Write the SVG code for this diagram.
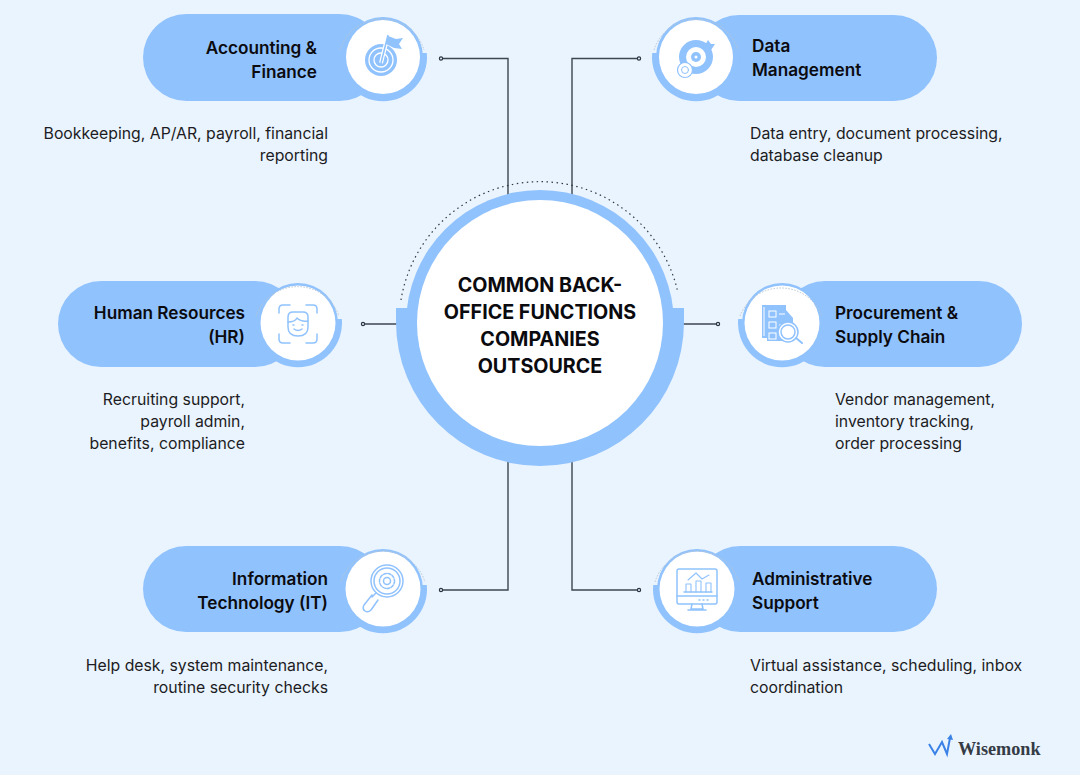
<svg xmlns="http://www.w3.org/2000/svg" width="1080" height="775" viewBox="0 0 1080 775">
<style>
.pill{fill:#90c2fd}
.white{fill:#fff}
.arc{fill:none;stroke:#b9c6d2;stroke-width:1;stroke-dasharray:1.5 1.5}
.t{font-family:"Inter","Liberation Sans",sans-serif;font-weight:600;font-size:17.2px;fill:#0b0b0f}
.b{font-family:"Inter","Liberation Sans",sans-serif;font-weight:400;font-size:15.800px;fill:#1c1c22}
.h{font-family:"Inter","Liberation Sans",sans-serif;font-weight:700;font-size:19.700px;fill:#0b0b0f;text-anchor:middle}
.e{text-anchor:end}
.c{fill:none;stroke:#3c4652;stroke-width:1.4}
.d{fill:#eaf4ff;stroke:#2a3440;stroke-width:1.2}
.i{fill:none;stroke:#90c2fd;stroke-width:1.5;stroke-linecap:round;stroke-linejoin:round}
.w{fill:none;stroke:#fff;stroke-width:1.3}
.f{fill:#90c2fd}
</style>
<rect width="1080" height="775" fill="#eaf4ff"/>
<g id="connectors">
<path class="c" d="M441 58.500H508V195"/>
<path class="c" d="M639 58.500H572V195"/>
<path class="c" d="M363 324H400"/>
<path class="c" d="M718 324H680"/>
<path class="c" d="M441 590H508V460"/>
<path class="c" d="M639 590H572V460"/>
<circle class="d" cx="441" cy="58.500" r="1.600"/>
<circle class="d" cx="639" cy="58.500" r="1.600"/>
<circle class="d" cx="363" cy="324" r="1.600"/>
<circle class="d" cx="718" cy="324" r="1.600"/>
<circle class="d" cx="441" cy="590" r="1.600"/>
<circle class="d" cx="639" cy="590" r="1.600"/>
</g>
<g id="center">
<path d="M396 308H684V322A144 144 0 0 1 396 322Z" class="pill"/>
<circle cx="540" cy="324" r="134" class="pill"/>
<circle cx="540" cy="323" r="123" class="white"/>
<path d="M401 300A141 141 0 0 1 678 293" fill="none" stroke="#2f3945" stroke-width="1.200" stroke-dasharray="1.500 3.500"/>
<text class="h"><tspan x="540" y="292">COMMON BACK-</tspan><tspan x="540" y="319">OFFICE FUNCTIONS</tspan><tspan x="540" y="346">COMPANIES</tspan><tspan x="540" y="373">OUTSOURCE</tspan></text>
</g>
<g id="accounting">
<rect class="pill" x="143" y="14" width="240" height="87" rx="43.500"/>
<path class="pill" d="M339.200 53A44 44 0 1 0 426.800 53Z"/>
<circle class="pill" cx="383" cy="57" r="40"/>
<circle class="white" cx="383" cy="57" r="37"/>
<path class="arc" d="M340 50A44 44 0 0 1 424 50"/>
<circle class="f" cx="381" cy="60" r="16"/>
<circle class="w" cx="381" cy="60" r="12"/><circle class="w" cx="381" cy="60" r="7"/>
<path d="M381 63L388 35" stroke="#fff" stroke-width="4"/><path d="M381 63L388 35" stroke="#90c2fd" stroke-width="1.500"/>
<path class="f" d="M388 36L396 39L403 38L399 44L402 49L394 48L386 44Z"/>
<text class="t e"><tspan x="317" y="54">Accounting &amp;</tspan><tspan x="317" y="78">Finance</tspan></text>
<text class="b e"><tspan x="328" y="139">Bookkeeping, AP/AR, payroll, financial</tspan><tspan x="328" y="161">reporting</tspan></text>
</g>
<g id="data">
<rect class="pill" x="696" y="15" width="241" height="86" rx="43"/>
<path class="pill" d="M652.200 53A44 44 0 1 0 739.800 53Z"/>
<circle class="pill" cx="696" cy="57" r="40"/>
<circle class="white" cx="696" cy="57" r="37"/>
<path class="arc" d="M654 50A44 44 0 0 1 738 50"/>
<circle class="f" cx="696" cy="57" r="17"/><circle class="white" cx="696" cy="57" r="10"/><circle class="f" cx="696" cy="57" r="5"/><circle class="white" cx="696" cy="57" r="1.500"/>
<path class="f" d="M705 45L708 40L711 44L715 44L711 50L707 50Z"/>
<circle cx="685" cy="70" r="7.500" fill="#fff" stroke="#90c2fd" stroke-width="1.200"/><circle class="i" cx="685" cy="70" r="3.500" style="stroke-width:1"/>
<text class="t"><tspan x="752" y="52">Data</tspan><tspan x="752" y="76">Management</tspan></text>
<text class="b"><tspan x="750" y="139">Data entry, document processing,</tspan><tspan x="750" y="161">database cleanup</tspan></text>
</g>
<g id="hr">
<rect class="pill" x="58" y="281" width="240" height="86" rx="43"/>
<path class="pill" d="M254.200 319A44 44 0 1 0 341.800 319Z"/>
<circle class="pill" cx="298" cy="323" r="40"/>
<circle class="white" cx="298" cy="323" r="37.500"/>
<path class="arc" d="M256 316A44 44 0 0 1 339 316"/>
<path class="i" d="M279 313V309Q279 305 283 305H290M306 305H313Q317 305 317 309V313M279 334V339Q279 343 283 343H290M306 343H313Q317 343 317 339V334"/>
<path class="i" d="M288 317Q288 312 293 312H303Q308 312 308 317V327Q308 336 298 336Q288 336 288 327Z"/>
<path class="i" d="M288 322Q295 322 297 318Q301 322 308 321M293 325H294M302 325H303M294 329Q298 332 302 329"/>
<text class="t e"><tspan x="245" y="319">Human Resources</tspan><tspan x="245" y="343">(HR)</tspan></text>
<text class="b e"><tspan x="245" y="405">Recruiting support,</tspan><tspan x="245" y="427">payroll admin,</tspan><tspan x="245" y="449">benefits, compliance</tspan></text>
</g>
<g id="procurement">
<rect class="pill" x="782" y="281" width="240" height="86" rx="43"/>
<path class="pill" d="M738.200 319A44 44 0 1 0 825.800 319Z"/>
<circle class="pill" cx="782" cy="323" r="40"/>
<circle class="white" cx="782" cy="323" r="37.500"/>
<path class="arc" d="M740 316A44 44 0 0 1 822 316"/>
<path class="f" d="M762 305H786V310L793 318V341H767V338H762Z"/>
<path d="M764 307V336" stroke="#fff" stroke-width="1"/>
<g class="w" style="stroke-width:1"><rect x="769" y="311" width="7" height="6"/><rect x="769" y="322" width="7" height="6"/><rect x="769" y="333" width="7" height="6"/><path d="M779 314H785M779 325H785"/></g>
<circle cx="788" cy="332" r="10" fill="#fff" stroke="#90c2fd" stroke-width="1.500"/><circle class="i" cx="788" cy="332" r="7"/>
<path class="i" d="M796 338L802 343" style="stroke-width:2"/>
<text class="t"><tspan x="835" y="319">Procurement &amp;</tspan><tspan x="835" y="343">Supply Chain</tspan></text>
<text class="b"><tspan x="835" y="405">Vendor management,</tspan><tspan x="835" y="427">inventory tracking,</tspan><tspan x="835" y="449">order processing</tspan></text>
</g>
<g id="it">
<rect class="pill" x="143" y="546" width="240" height="86" rx="43"/>
<path class="pill" d="M339.200 585A44 44 0 1 0 426.800 585Z"/>
<circle class="pill" cx="383" cy="589" r="40"/>
<circle class="white" cx="383" cy="589" r="37.500"/>
<path class="arc" d="M341 582A44 44 0 0 1 425 582"/>
<circle class="i" cx="387" cy="581" r="16"/><circle class="i" cx="387" cy="581" r="13"/>
<circle class="i" cx="387" cy="581" r="7.500" stroke-dasharray="3 1.500"/><circle class="i" cx="387" cy="581" r="3.500"/>
<path class="i" d="M376 593L372 597M372 595L364 605Q362 609 365 611Q368 613 371 610L378 600"/>
<text class="t e"><tspan x="328" y="585">Information</tspan><tspan x="328" y="609">Technology (IT)</tspan></text>
<text class="b e"><tspan x="328" y="671">Help desk, system maintenance,</tspan><tspan x="328" y="693">routine security checks</tspan></text>
</g>
<g id="admin">
<rect class="pill" x="697" y="546" width="240" height="86" rx="43"/>
<path class="pill" d="M653.200 585A44 44 0 1 0 740.800 585Z"/>
<circle class="pill" cx="697" cy="589" r="40"/>
<circle class="white" cx="697" cy="589" r="37.500"/>
<path class="arc" d="M655 582A44 44 0 0 1 739 582"/>
<rect class="i" x="677" y="569" width="40" height="35" rx="2"/>
<path class="i" d="M677 596H717M692 604L691 609H703L702 604M688 610H706M684 592H712M707 600H708M703 600H704M699 600H700"/>
<path class="i" d="M686 592V584H691V592M696 592V581H701V592M706 592V583H711V592" style="stroke-width:1.100"/>
<path class="i" d="M688 580L696 573L702 579L709 575" style="stroke-width:1.100"/>
<text class="t"><tspan x="752" y="585">Administrative</tspan><tspan x="752" y="609">Support</tspan></text>
<text class="b"><tspan x="750" y="671">Virtual assistance, scheduling, inbox</tspan><tspan x="750" y="693">coordination</tspan></text>
</g>
<g id="logo">
<path d="M929 744L935 754L942 742L947 754L950 738" fill="none" stroke="#3b82e6" stroke-width="2"/>
<path d="M947 739L951 734L953 740Z" fill="#3b82e6"/>
<text x="958" y="755" font-family="'Liberation Serif',serif" font-weight="700" font-size="18.200px" fill="#353b45">Wisemonk</text>
</g>
</svg>
